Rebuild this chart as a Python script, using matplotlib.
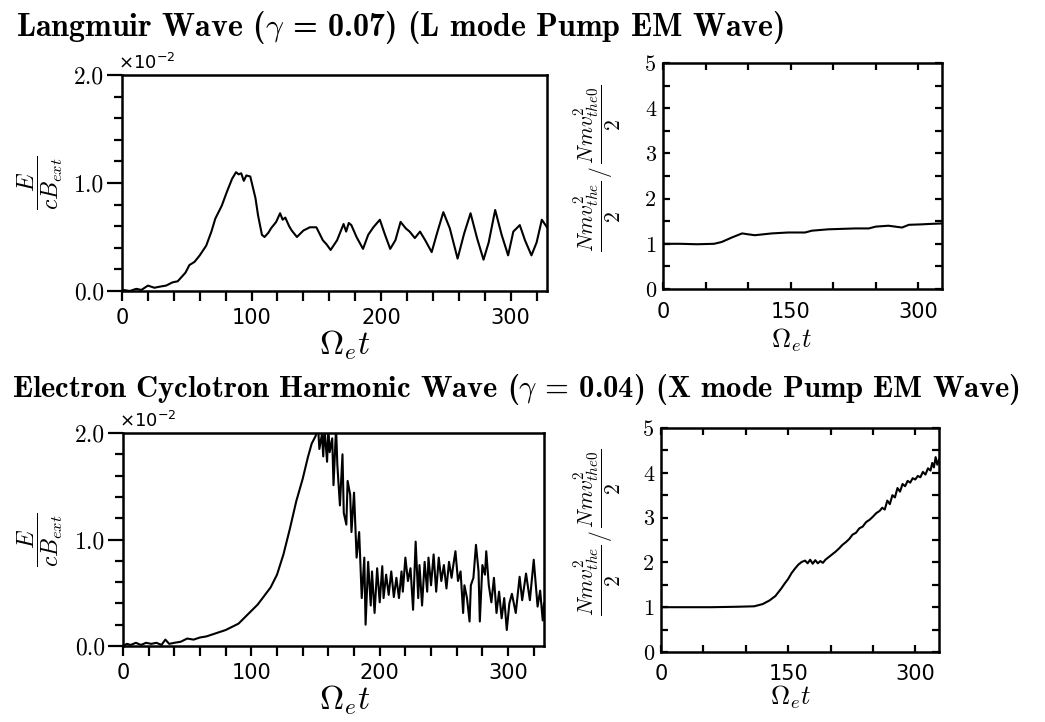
import matplotlib
matplotlib.use("Agg")
import matplotlib.pyplot as plt
from matplotlib.ticker import MultipleLocator

plt.rcParams['mathtext.fontset'] = 'cm'
plt.rcParams['axes.unicode_minus'] = False

# ---- data ----
# top-left: Langmuir wave field, units of 1e-2
lw_t = [0, 1, 6, 11, 15, 20, 25, 29, 34, 39, 43, 46, 49, 52, 56, 60, 65, 69, 72, 77, 81, 85,
        88, 90, 92, 94, 96, 99, 103, 105, 108, 110, 113, 115, 119, 122, 124, 126, 129, 131,
        135, 140, 145, 150, 155, 158, 161, 166, 171, 173, 175, 177, 181, 186, 190, 194, 199,
        203, 207, 211, 215, 219, 222, 226, 230, 234, 239, 243, 248, 253, 259, 264, 269, 274,
        279, 283, 288, 293, 298, 302, 307, 311, 316, 320, 324, 328]
lw_e = [0.0, 0.01, 0.0, 0.02, 0.01, 0.05, 0.03, 0.04, 0.05, 0.08, 0.09, 0.13, 0.17, 0.24,
        0.27, 0.33, 0.42, 0.55, 0.67, 0.79, 0.92, 1.04, 1.10, 1.08, 1.09, 1.02, 1.07, 1.06,
        0.86, 0.70, 0.52, 0.50, 0.54, 0.58, 0.64, 0.72, 0.66, 0.68, 0.60, 0.56, 0.50, 0.56,
        0.59, 0.59, 0.47, 0.43, 0.38, 0.47, 0.62, 0.55, 0.63, 0.61, 0.50, 0.39, 0.52, 0.59,
        0.66, 0.52, 0.39, 0.47, 0.64, 0.58, 0.55, 0.49, 0.55, 0.47, 0.36, 0.53, 0.73, 0.58,
        0.30, 0.53, 0.72, 0.49, 0.29, 0.45, 0.75, 0.52, 0.33, 0.55, 0.61, 0.47, 0.33, 0.45,
        0.66, 0.59]

# top-right: electron kinetic energy ratio (L mode)
le_t = [0, 20, 40, 60, 69, 81, 93, 100, 108, 128, 147, 167, 175, 194, 226, 242, 250, 265,
        281, 289, 304, 314, 328]
le_k = [1.0, 1.0, 0.99, 1.0, 1.04, 1.14, 1.23, 1.21, 1.19, 1.23, 1.25, 1.25, 1.29, 1.32,
        1.34, 1.34, 1.38, 1.40, 1.36, 1.42, 1.43, 1.44, 1.45]

# bottom-left: electron cyclotron harmonic wave field, units of 1e-2
ec_t = [0, 3, 6, 10, 14, 18, 22, 26, 30, 33, 36, 40, 45, 50, 55, 60, 65, 70, 75, 80, 85, 90,
        95, 100, 105, 110, 115, 120, 125, 130, 135, 140, 144, 147, 150, 152, 153, 155, 156,
        157, 159, 160, 161, 163, 164, 166, 167, 169, 171, 172, 174, 175, 177, 178, 180, 182,
        184, 186, 188, 189, 191, 193, 194, 196, 198, 200, 202, 203, 205, 207, 209, 211, 213,
        215, 217, 218, 220, 222, 224, 226, 228, 230, 231, 233, 235, 237, 238, 240, 242, 244,
        246, 248, 250, 252, 254, 256, 257, 259, 261, 263, 265, 266, 268, 270, 271, 273, 275,
        277, 278, 280, 282, 283, 285, 287, 289, 291, 293, 295, 297, 299, 301, 303, 306, 309,
        311, 314, 317, 320, 323, 325, 327, 328]
ec_e = [0.0, 0.02, 0.01, 0.03, 0.01, 0.03, 0.02, 0.03, 0.01, 0.06, 0.02, 0.03, 0.04, 0.07,
        0.06, 0.08, 0.09, 0.11, 0.13, 0.15, 0.18, 0.21, 0.27, 0.33, 0.39, 0.47, 0.55, 0.67,
        0.86, 1.10, 1.36, 1.57, 1.77, 1.90, 1.97, 2.05, 1.85, 1.99, 1.78, 2.04, 1.73, 2.05,
        1.82, 1.95, 1.51, 2.05, 1.70, 1.32, 1.80, 1.25, 1.14, 1.55, 1.42, 1.07, 1.44, 0.83,
        1.07, 0.45, 0.83, 0.20, 0.79, 0.38, 0.70, 0.31, 0.73, 0.41, 0.75, 0.45, 0.67, 0.48,
        0.70, 0.46, 0.64, 0.45, 0.70, 0.51, 0.83, 0.61, 0.73, 0.34, 0.98, 0.45, 0.76, 0.38,
        0.79, 0.51, 0.83, 0.57, 0.86, 0.51, 0.83, 0.61, 0.76, 0.54, 0.79, 0.64, 0.73, 0.89,
        0.61, 0.70, 0.31, 0.57, 0.45, 0.23, 0.57, 0.64, 0.95, 0.70, 0.23, 0.76, 0.67, 0.89,
        0.57, 0.41, 0.64, 0.31, 0.51, 0.26, 0.45, 0.15, 0.40, 0.49, 0.31, 0.65, 0.43, 0.68,
        0.43, 0.81, 0.37, 0.52, 0.24, 0.40]

# bottom-right: electron kinetic energy ratio (X mode)
xe_t = [0, 30, 60, 90, 110, 120, 128, 135, 142, 146, 150, 154, 158, 162, 166, 170, 173, 176,
        179, 182, 185, 188, 191, 194, 198, 202, 206, 210, 214, 218, 222, 226, 230, 234, 238,
        242, 246, 250, 254, 258, 261, 264, 267, 270, 273, 276, 279, 282, 285, 288, 291, 294,
        297, 300, 303, 306, 309, 312, 315, 318, 320, 322, 324, 326, 328]
xe_k = [1.0, 1.0, 1.0, 1.01, 1.02, 1.07, 1.15, 1.25, 1.42, 1.53, 1.63, 1.76, 1.86, 1.95,
        2.01, 2.04, 1.98, 2.06, 1.97, 2.05, 1.98, 2.03, 1.99, 2.06, 2.12, 2.18, 2.24, 2.31,
        2.39, 2.45, 2.52, 2.62, 2.66, 2.76, 2.80, 2.90, 2.95, 3.02, 3.10, 3.15, 3.22, 3.18,
        3.38, 3.30, 3.50, 3.45, 3.66, 3.58, 3.75, 3.70, 3.82, 3.78, 3.88, 3.85, 3.93, 3.90,
        4.02, 3.96, 4.10, 4.05, 4.22, 4.12, 4.35, 4.18, 4.30]

titles = [r"Langmuir Wave ($\gamma$ = 0.07) (L mode Pump EM Wave)",
          r"Electron Cyclotron Harmonic Wave ($\gamma$ = 0.04) (X mode Pump EM Wave)"]

W, H = 1045, 722
fig = plt.figure(figsize=(W / 100, H / 100), dpi=100)


def box(x0, y0, x1, y1):
    # pixel box -> figure fraction
    return [x0 / W, 1 - y1 / H, (x1 - x0) / W, (y1 - y0) / H]


def field_axes(rect, t, e, label_y):
    ax = fig.add_axes(rect)
    ax.plot(t, e, color='black', lw=1.5)
    ax.set_xlim(0, 328)
    ax.set_ylim(0, 2.0)
    ax.spines['top'].set_visible(False)
    ax.spines['right'].set_visible(False)
    for s in ax.spines.values():
        s.set_linewidth(1.8)
    ax.plot([0, 1], [1, 1], transform=ax.transAxes, color='black', lw=1.8, clip_on=False)
    ax.plot([1, 1], [0, 1], transform=ax.transAxes, color='black', lw=1.8, clip_on=False)
    ax.xaxis.set_major_locator(MultipleLocator(100))
    ax.xaxis.set_minor_locator(MultipleLocator(20))
    ax.yaxis.set_major_locator(MultipleLocator(1.0))
    ax.yaxis.set_minor_locator(MultipleLocator(0.2))
    ax.tick_params(axis='x', which='both', direction='out', length=7, width=1.6, pad=5)
    ax.tick_params(axis='y', which='major', direction='out', length=11, width=1.6, pad=2)
    ax.tick_params(axis='y', which='minor', direction='out', length=6, width=1.6)
    ax.set_yticks([0, 1, 2])
    ax.set_yticklabels(['0.0', '1.0', '2.0'], family='cmr10', fontsize=17)
    ax.set_xticks([0, 100, 200, 300])
    ax.set_xticklabels(['0', '100', '200', '300'], family='DejaVu Sans', fontsize=15)
    ax.text(-0.01, 1.01, r'$\times10^{-2}$', transform=ax.transAxes, fontsize=13,
            math_fontfamily='dejavusans', ha='left', va='bottom')
    fig.text(40 / W, 1 - label_y / H, r'$\dfrac{E}{cB_{ext}}$', rotation=90,
             fontsize=17, ha='center', va='center')
    return ax


def energy_axes(rect, t, k, label_y):
    ax = fig.add_axes(rect)
    ax.plot(t, k, color='black', lw=1.5)
    ax.set_xlim(0, 328)
    ax.set_ylim(0, 5)
    for s in ax.spines.values():
        s.set_linewidth(1.8)
    ax.xaxis.set_major_locator(MultipleLocator(150))
    ax.xaxis.set_minor_locator(MultipleLocator(50))
    ax.yaxis.set_major_locator(MultipleLocator(1))
    ax.yaxis.set_minor_locator(MultipleLocator(0.5))
    ax.tick_params(which='both', direction='in', top=True, right=True, length=5, width=1.6)
    ax.tick_params(axis='x', pad=9)
    ax.tick_params(axis='y', pad=5)
    ax.set_yticks([0, 1, 2, 3, 4, 5])
    ax.set_yticklabels(['0', '1', '2', '3', '4', '5'], family='cmr10', fontsize=16)
    ax.set_xticks([0, 150, 300])
    ax.set_xticklabels(['0', '150', '300'], family='DejaVu Sans', fontsize=15)
    fig.text(597 / W, 1 - label_y / H,
             r'$\dfrac{Nmv_{the}^2}{2}\,/\,\dfrac{Nmv_{the0}^2}{2}$',
             rotation=90, fontsize=15.5, ha='center', va='center')
    return ax


field_axes(box(122, 75, 547, 291), lw_t, lw_e, 183)
energy_axes(box(663, 63, 942, 289), le_t, le_k, 168)
field_axes(box(123, 433, 544, 646), ec_t, ec_e, 540)
energy_axes(box(661, 428, 939, 652), xe_t, xe_k, 532)

# axis labels
fig.text(345 / W, 1 - 345 / H, r'$\Omega_e t$', fontsize=24, ha='center', va='center')
fig.text(792 / W, 1 - 340 / H, r'$\Omega_e t$', fontsize=19, ha='center', va='center')
fig.text(345 / W, 1 - 700 / H, r'$\Omega_e t$', fontsize=24, ha='center', va='center')
fig.text(791 / W, 1 - 697 / H, r'$\Omega_e t$', fontsize=19, ha='center', va='center')

# panel titles
fig.text(16 / W, 1 - 28 / H, titles[0], family='cmb10', fontsize=23, ha='left', va='center')
fig.text(12 / W, 1 - 390 / H, titles[1], family='cmb10', fontsize=22, ha='left', va='center')

fig.savefig('out.png', dpi=100)
